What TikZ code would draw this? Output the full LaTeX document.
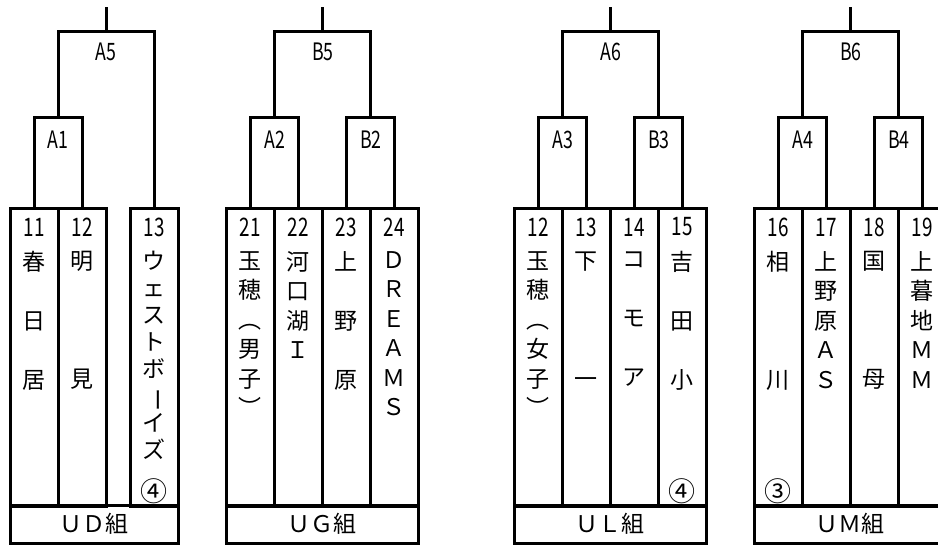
\documentclass[tikz,border=0pt]{standalone}
\usepackage{fontspec}
\setmainfont{Noto Sans CJK JP}
\newfontfamily\numfont[FakeStretch=0.74]{Noto Sans CJK JP}
\usetikzlibrary{positioning, calc}

\begin{document}
\begin{tikzpicture}[x=1pt, y=-1pt, line width=3pt,
  team/.style={draw, minimum width=48pt, minimum height=298pt, anchor=north, inner sep=0pt},
  grp/.style={draw, minimum height=38pt, inner sep=0pt, font=\fontsize{23}{26}\selectfont},
  num/.style={inner sep=0pt, font=\numfont\fontsize{25.5}{28}\selectfont},
  gamelbl/.style={inner sep=0pt, font=\numfont\fontsize{24}{26}\selectfont},
  teamname/.style={anchor=north, align=center, inner sep=0pt, font=\fontsize{23}{29.5}\selectfont},
  circ/.style={inner sep=0pt, font=\fontsize{27}{27}\selectfont}
]
  \clip (0,0) rectangle (938,545);

  % UD group
  \node[team] (d11) at (34,207) {};
  \node[team] (d12) at (82,207) {};
  \node[team] (d13) at (154,207) {};
  \node[num] (d11n) at ($(d11.north)+(0,20)$) {11};
  \node[num] (d12n) at ($(d12.north)+(0,20)$) {12};
  \node[num] (d13n) at ($(d13.north)+(0,20)$) {13};
  \node[teamname] (d11t) at ($(d11.north)+(0,43)$) {春\\　\\日\\　\\居};
  \node[teamname] (d12t) at ($(d12.north)+(0,43)$) {明\\　\\　\\　\\見};
  \node[teamname, font=\fontsize{23}{27}\selectfont] (d13t) at ($(d13.north)+(0,43)$)
    {ウ\\ェ\\ス\\ト\\ボ\\\rotatebox[origin=c]{-90}{ー}\\イ\\ズ};
  \node[circ] (d13c) at ($(d13.south)+(0,-17)$) {④};
  \node[grp, minimum width=168pt] (ud) at (94,524) {ＵＤ組};

  \coordinate (A1) at (58,118);
  \coordinate (A5) at (106,32);
  \coordinate (A5top) at (106,7);
  \draw (d11.north) |- (A1) -| (d12.north);
  \draw (A1) |- (A5) -| (d13.north);
  \draw (A5) -- (A5top);
  \node[gamelbl] (lA1) at (58,140) {A1};
  \node[gamelbl] (lA5) at (106,52) {A5};

  % UG group
  \node[team] (g21) at (250,207) {};
  \node[team] (g22) at (298,207) {};
  \node[team] (g23) at (346,207) {};
  \node[team] (g24) at (394,207) {};
  \node[num] (g21n) at ($(g21.north)+(0,20)$) {21};
  \node[num] (g22n) at ($(g22.north)+(0,20)$) {22};
  \node[num] (g23n) at ($(g23.north)+(0,20)$) {23};
  \node[num] (g24n) at ($(g24.north)+(0,20)$) {24};
  \node[teamname] (g21t) at ($(g21.north)+(0,43)$) {玉\\穂\\︵\\男\\子\\︶};
  \node[teamname] (g22t) at ($(g22.north)+(0,43)$) {河\\口\\湖\\Ｉ};
  \node[teamname] (g23t) at ($(g23.north)+(0,43)$) {上\\　\\野\\　\\原};
  \node[teamname] (g24t) at ($(g24.north)+(0,43)$) {Ｄ\\Ｒ\\Ｅ\\Ａ\\Ｍ\\Ｓ};
  \node[grp, minimum width=192pt] (ug) at (322,524) {ＵＧ組};

  \coordinate (A2) at (274,118);
  \coordinate (B2) at (370,118);
  \coordinate (B5) at (322,32);
  \coordinate (B5top) at (322,7);
  \draw (g21.north) |- (A2) -| (g22.north);
  \draw (g23.north) |- (B2) -| (g24.north);
  \draw (A2) |- (B5) -| (B2);
  \draw (B5) -- (B5top);
  \node[gamelbl] (lA2) at (275,140) {A2};
  \node[gamelbl] (lB2) at (371,140) {B2};
  \node[gamelbl] (lB5) at (323,52) {B5};

  % UL group
  \node[team] (l12) at (538,207) {};
  \node[team] (l13) at (586,207) {};
  \node[team] (l14) at (634,207) {};
  \node[team] (l15) at (682,207) {};
  \node[num] (l12n) at ($(l12.north)+(0,20)$) {12};
  \node[num] (l13n) at ($(l13.north)+(0,20)$) {13};
  \node[num] (l14n) at ($(l14.north)+(0,20)$) {14};
  \node[num] (l15n) at ($(l15.north)+(0,20)$) {15};
  \node[teamname] (l12t) at ($(l12.north)+(0,43)$) {玉\\穂\\︵\\女\\子\\︶};
  \node[teamname] (l13t) at ($(l13.north)+(0,43)$) {下\\　\\　\\　\\一};
  \node[teamname] (l14t) at ($(l14.north)+(0,43)$) {コ\\　\\モ\\　\\ア};
  \node[teamname] (l15t) at ($(l15.north)+(0,43)$) {吉\\　\\田\\　\\小};
  \node[circ] (l15c) at ($(l15.south)+(0,-17)$) {④};
  \node[grp, minimum width=192pt] (ul) at (610,524) {ＵＬ組};

  \coordinate (A3) at (562,118);
  \coordinate (B3) at (658,118);
  \coordinate (A6) at (610,32);
  \coordinate (A6top) at (610,7);
  \draw (l12.north) |- (A3) -| (l13.north);
  \draw (l14.north) |- (B3) -| (l15.north);
  \draw (A3) |- (A6) -| (B3);
  \draw (A6) -- (A6top);
  \node[gamelbl] (lA3) at (563,140) {A3};
  \node[gamelbl] (lB3) at (659,140) {B3};
  \node[gamelbl] (lA6) at (611,52) {A6};

  % UM group
  \node[team] (m16) at (778,207) {};
  \node[team] (m17) at (826,207) {};
  \node[team] (m18) at (874,207) {};
  \node[team] (m19) at (922,207) {};
  \node[num] (m16n) at ($(m16.north)+(0,20)$) {16};
  \node[num] (m17n) at ($(m17.north)+(0,20)$) {17};
  \node[num] (m18n) at ($(m18.north)+(0,20)$) {18};
  \node[num] (m19n) at ($(m19.north)+(0,20)$) {19};
  \node[teamname] (m16t) at ($(m16.north)+(0,43)$) {相\\　\\　\\　\\川};
  \node[teamname] (m17t) at ($(m17.north)+(0,43)$) {上\\野\\原\\Ａ\\Ｓ};
  \node[teamname] (m18t) at ($(m18.north)+(0,43)$) {国\\　\\　\\　\\母};
  \node[teamname] (m19t) at ($(m19.north)+(0,43)$) {上\\暮\\地\\Ｍ\\Ｍ};
  \node[circ] (m16c) at ($(m16.south)+(0,-17)$) {③};
  \node[grp, minimum width=192pt] (um) at (850,524) {ＵＭ組};

  \coordinate (A4) at (802,118);
  \coordinate (B4) at (898,118);
  \coordinate (B6) at (850,32);
  \coordinate (B6top) at (850,7);
  \draw (m16.north) |- (A4) -| (m17.north);
  \draw (m18.north) |- (B4) -| (m19.north);
  \draw (A4) |- (B6) -| (B4);
  \draw (B6) -- (B6top);
  \node[gamelbl] (lA4) at (803,140) {A4};
  \node[gamelbl] (lB4) at (899,140) {B4};
  \node[gamelbl] (lB6) at (851,52) {B6};
\end{tikzpicture}
\end{document}
